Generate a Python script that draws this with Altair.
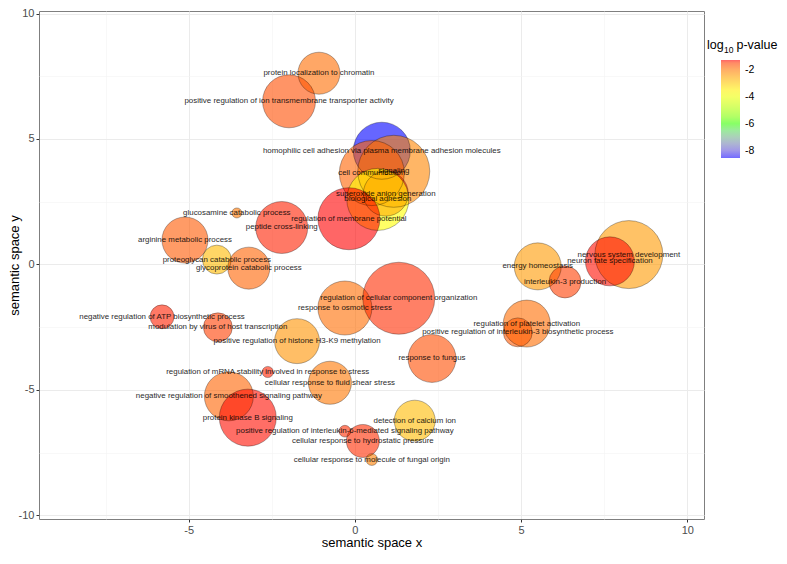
import altair as alt
import pandas as pd

terms = [
    "protein localization to chromatin",
    "positive regulation of ion transmembrane transporter activity",
    "homophilic cell adhesion via plasma membrane adhesion molecules",
    "signaling",
    "cell communication",
    "superoxide anion generation",
    "biological adhesion",
    "regulation of membrane potential",
    "glucosamine catabolic process",
    "peptide cross-linking",
    "arginine metabolic process",
    "proteoglycan catabolic process",
    "glycoprotein catabolic process",
    "negative regulation of ATP biosynthetic process",
    "modulation by virus of host transcription",
    "positive regulation of histone H3-K9 methylation",
    "response to osmotic stress",
    "regulation of cellular component organization",
    "energy homeostasis",
    "interleukin-3 production",
    "nervous system development",
    "neuron fate specification",
    "regulation of platelet activation",
    "positive regulation of interleukin-3 biosynthetic process",
    "response to fungus",
    "regulation of mRNA stability involved in response to stress",
    "cellular response to fluid shear stress",
    "negative regulation of smoothened signaling pathway",
    "protein kinase B signaling",
    "detection of calcium ion",
    "positive regulation of interleukin-6-mediated signaling pathway",
    "cellular response to hydrostatic pressure",
    "cellular response to molecule of fungal origin",
]

plot_x = [-1.08, -1.98, 0.81, 1.17, 0.51, 0.93, 0.69, -0.18, -3.55, -2.20,
          -5.11, -4.15, -3.19, -5.80, -4.12, -1.74, -0.30, 1.32, 5.50, 6.32,
          8.24, 7.67, 5.17, 4.90, 2.32, -2.62, -0.75, -3.79, -3.22, 1.80,
          -0.30, 0.24, 0.51]

plot_y = [7.62, 6.50, 4.53, 3.71, 3.64, 2.82, 2.59, 1.82, 2.05, 1.47,
          0.97, 0.19, -0.15, -2.09, -2.51, -3.06, -1.74, -1.35, -0.08, -0.70,
          0.39, 0.12, -2.36, -2.71, -3.75, -4.29, -4.72, -5.26, -6.11, -6.23,
          -6.65, -7.04, -7.78]

log10_p = [-1.9, -1.6, -8.55, -2.15, -1.8, -1.4, -3.7, -1.28, -2.0, -1.35,
           -1.7, -2.8, -1.8, -1.35, -1.5, -2.3, -1.9, -1.4, -2.4, -1.5,
           -2.4, -1.3, -1.9, -1.7, -1.6, -1.35, -2.0, -1.8, -1.3, -2.8,
           -1.4, -1.4, -2.1]

plot_size = [2.31, 3.13, 3.48, 5.00, 4.25, 2.51, 3.95, 3.95, 1.00, 3.05,
             2.59, 1.58, 2.31, 1.37, 1.58, 2.51, 3.22, 5.00, 2.66, 1.73,
             4.56, 2.81, 2.66, 1.58, 2.73, 1.02, 2.38, 2.81, 3.48, 2.24,
             1.03, 1.78, 1.03]

x_ticks = [-7.5, -5, -2.5, 0, 2.5, 5, 7.5, 10]
y_ticks = [-10, -7.5, -5, -2.5, 0, 2.5, 5, 7.5, 10]
legend_ticks = [-8, -6, -4, -2]

# legend title pieces: "log", subscript "10", "p-value"
title_parts = ["log", "10", "p-value"]

df = pd.DataFrame({
    "term": terms,
    "plot_X": plot_x,
    "plot_Y": plot_y,
    "log10_p_value": log10_p,
    "plot_size": plot_size,
})

lo, hi = min(log10_p), max(log10_p)
color_domain = [lo + i * (hi - lo) / 3 for i in range(4)]

FONT = "Liberation Sans"
minor_test = "datum.value % 5 !== 0"


def make_axis(title, values, **kw):
    return alt.Axis(
        title=title,
        values=values,
        labelExpr="datum.value % 5 === 0 ? toString(datum.value) : ''",
        tickColor={"condition": {"test": minor_test, "value": "transparent"}, "value": "#333333"},
        gridColor={"condition": {"test": minor_test, "value": "#F4F4F4"}, "value": "#EBEBEB"},
        gridWidth={"condition": {"test": minor_test, "value": 0.6}, "value": 1},
        domain=False,
        tickSize=3,
        labelFont=FONT,
        labelFontSize=11,
        labelColor="#4D4D4D",
        titleFont=FONT,
        titleFontSize=13,
        titleFontWeight="normal",
        titleColor="#000000",
        **kw,
    )


x_enc = alt.X("plot_X:Q",
              scale=alt.Scale(domain=[-9.5, 10.5], nice=False, zero=False),
              axis=make_axis("semantic space x", x_ticks, labelPadding=2, titlePadding=1))
y_enc = alt.Y("plot_Y:Q",
              scale=alt.Scale(domain=[-10.15, 10.1], nice=False, zero=False),
              axis=make_axis("semantic space y", y_ticks, labelPadding=2, titleX=-18))

size_enc = alt.Size("plot_size:Q", scale=alt.Scale(domain=[1, 5], range=[100, 5184]), legend=None)

color_enc = alt.Color(
    "log10_p_value:Q",
    scale=alt.Scale(domain=color_domain,
                    range=["#0000FF", "#00FF00", "#FFFF00", "#FF0000"],
                    interpolate="lab"),
    legend=alt.Legend(
        title=None,
        orient="none",
        legendX=682,
        legendY=49,
        direction="vertical",
        gradientLength=98,
        gradientThickness=19,
        gradientStrokeWidth=0,
        values=legend_ticks,
        labelExpr="toString(datum.value)",
        labelFont=FONT,
        labelFontSize=10.5,
        labelColor="#000000",
        labelOffset=5,
    ),
)

base = alt.Chart(df)

fills = base.mark_circle(opacity=0.6, strokeWidth=0).encode(
    x=x_enc, y=y_enc, size=size_enc, color=color_enc
)

outlines = base.mark_point(shape="circle", filled=False, stroke="#000000",
                           strokeOpacity=0.6, strokeWidth=0.7).encode(
    x="plot_X:Q", y="plot_Y:Q", size=size_enc
)

labels = base.mark_text(font=FONT, fontSize=7.9, color="#000000", opacity=0.85,
                        align="center", baseline="middle").encode(
    x="plot_X:Q", y="plot_Y:Q", text="term:N"
)

# legend title "log10 p-value" with subscript 10
t_log = alt.Chart().mark_text(font=FONT, fontSize=12.5, align="left", baseline="alphabetic",
                              color="#000000").encode(
    x=alt.value(668), y=alt.value(38), text=alt.value(title_parts[0]))
t_sub = alt.Chart().mark_text(font=FONT, fontSize=8.5, align="left", baseline="alphabetic",
                              color="#000000").encode(
    x=alt.value(685), y=alt.value(42), text=alt.value(title_parts[1]))
t_pv = alt.Chart().mark_text(font=FONT, fontSize=12.5, align="left", baseline="alphabetic",
                             color="#000000").encode(
    x=alt.value(697.5), y=alt.value(38), text=alt.value(title_parts[2]))

chart = alt.layer(fills, outlines, labels, t_log, t_sub, t_pv).properties(
    width=665,
    height=508,
    padding={"left": 31, "top": 3, "right": 75, "bottom": 32},
    autosize=alt.AutoSizeParams(type="none"),
).configure_view(
    stroke="#7F7F7F", strokeWidth=1
)

chart.save("out.html", embed_options={"renderer": "svg", "actions": False})
